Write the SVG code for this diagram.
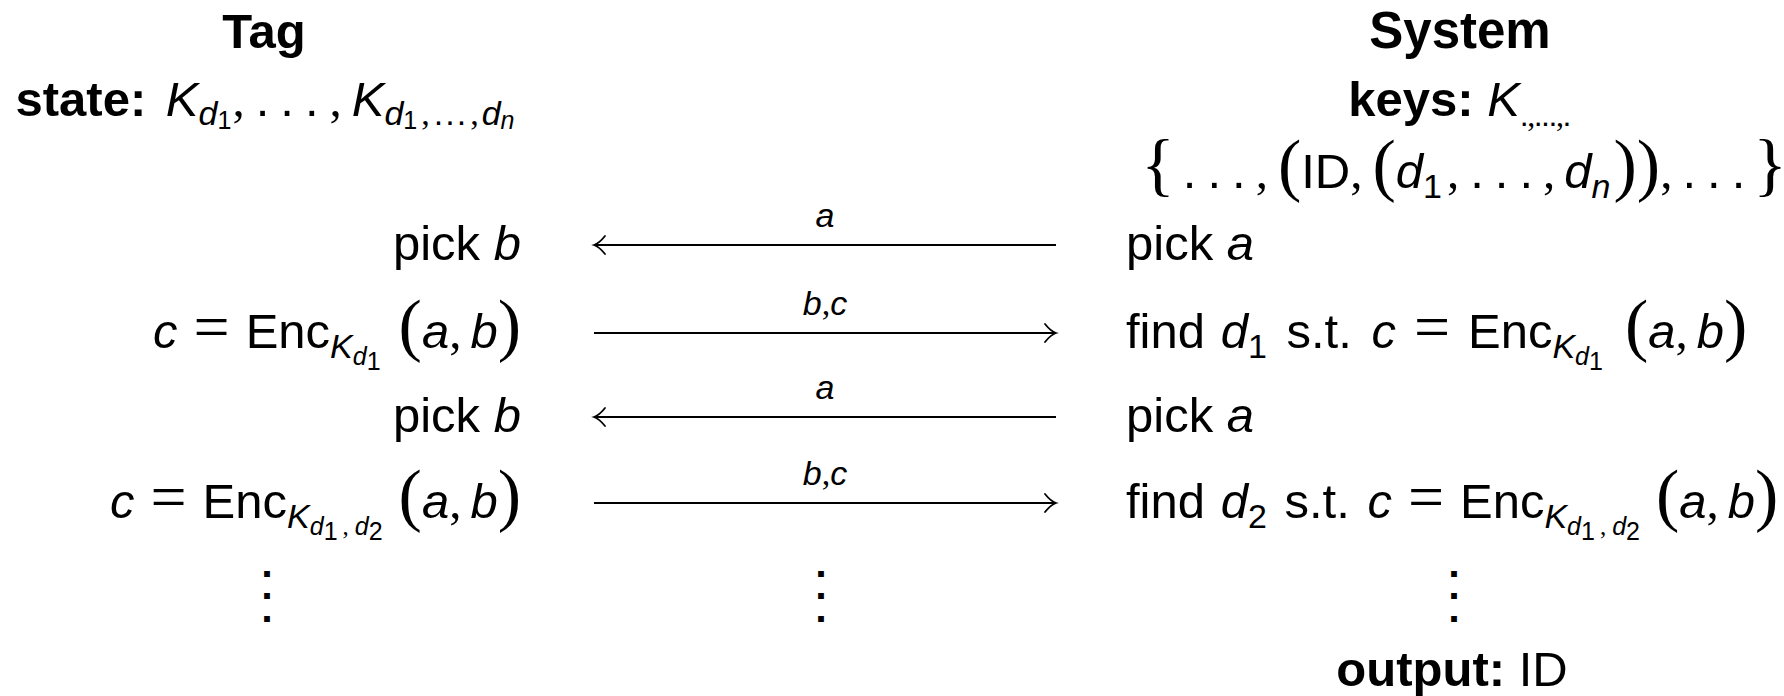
<svg xmlns="http://www.w3.org/2000/svg" width="1784" height="696" viewBox="0 0 1784 696">
  <style>
    text{font-family:"Liberation Sans",Arial,sans-serif;font-size:49px;fill:#000}
    .bf{font-weight:bold}
    .it{font-style:italic}
    .sub{font-size:34px}
    .ssub{font-size:25px}
    .ksub{font-size:32px;letter-spacing:-1.5px}
    .rm{font-family:"Liberation Serif","Times New Roman",serif}
    .eq{font-family:"Liberation Serif","Times New Roman",serif;font-size:64px}
    .par{font-family:"Liberation Serif","Times New Roman",serif;font-size:70px}
    .lbl{font-size:34px;font-style:italic}
    .vd{font-size:18px;stroke:#000;stroke-width:4;stroke-linejoin:miter}
    .arr{stroke:#000;stroke-width:2;fill:none}
  </style>
  <defs>
    <marker id="ah" markerUnits="userSpaceOnUse" markerWidth="16" markerHeight="24" viewBox="-14 -12 16 24" refX="0" refY="0" orient="auto" overflow="visible">
      <path d="M-11,-9 C-7,-4 -3,-1 0,0 C-3,1 -7,4 -11,9" fill="none" stroke="#000" stroke-width="1.8" stroke-linecap="round"/>
    </marker>
  </defs>
  <rect width="1784" height="696" fill="#fff"/>

  <!-- Tag column -->
  <g id="tag">
    <text class="bf" x="264" y="48" text-anchor="middle">Tag</text>
    <text x="265" y="116" text-anchor="middle"><tspan class="bf">state: </tspan><tspan class="it" dx="6">K</tspan><tspan class="it sub" dy="9">d</tspan><tspan class="ssub" dy="4">1</tspan><tspan class="rm" dx="1" dy="-13">,</tspan><tspan dx="11">.</tspan><tspan dx="11">.</tspan><tspan dx="11">.</tspan><tspan class="rm" dx="11">,</tspan><tspan class="it" dx="10">K</tspan><tspan class="it sub" dy="9">d</tspan><tspan class="ssub" dy="4">1</tspan><tspan class="rm sub" dx="4" dy="-4">,</tspan><tspan class="sub" dx="4">.</tspan><tspan class="sub" dx="2">.</tspan><tspan class="sub" dx="2">.</tspan><tspan class="rm sub" dx="4">,</tspan><tspan class="it sub" dx="3">d</tspan><tspan class="it ssub" dy="4">n</tspan></text>
    <text x="521" y="260" text-anchor="end">pick <tspan class="it">b</tspan></text>
    <text x="521" y="348" text-anchor="end"><tspan class="it">c</tspan><tspan class="eq" dx="16">=</tspan><tspan dx="16">Enc</tspan><tspan class="it sub" dy="10">K</tspan><tspan class="it ssub" dy="7">d</tspan><tspan class="ssub" dy="5">1</tspan><tspan class="par" dx="18" dy="-22">(</tspan><tspan class="it">a</tspan><tspan class="rm">,</tspan><tspan class="it" dx="9">b</tspan><tspan class="par">)</tspan></text>
    <text x="521" y="432" text-anchor="end">pick <tspan class="it">b</tspan></text>
    <text x="521" y="518" text-anchor="end"><tspan class="it">c</tspan><tspan class="eq" dx="16">=</tspan><tspan dx="16">Enc</tspan><tspan class="it sub" dy="10">K</tspan><tspan class="it ssub" dy="7">d</tspan><tspan class="ssub" dy="5">1</tspan><tspan class="rm ssub" dx="5" dy="-5">,</tspan><tspan class="it ssub" dx="6">d</tspan><tspan class="ssub" dy="5">2</tspan><tspan class="par" dx="16" dy="-22">(</tspan><tspan class="it">a</tspan><tspan class="rm">,</tspan><tspan class="it" dx="9">b</tspan><tspan class="par">)</tspan></text>
    <text class="vd" x="267" y="575" text-anchor="middle">.</text>
    <text class="vd" x="267" y="597" text-anchor="middle">.</text>
    <text class="vd" x="267" y="620" text-anchor="middle">.</text>
  </g>

  <!-- System column -->
  <g id="system">
    <text class="bf" x="1460" y="48" text-anchor="middle" style="font-size:51px">System</text>
    <text x="1459" y="116" text-anchor="middle"><tspan class="bf">keys: </tspan><tspan class="it">K</tspan><tspan class="ksub" dy="10">.</tspan><tspan class="rm ksub">,</tspan><tspan class="ksub">...</tspan><tspan class="rm ksub">,</tspan><tspan class="ksub">.</tspan></text>
    <text x="1464" y="188" text-anchor="middle"><tspan class="par">{</tspan><tspan dx="8">.</tspan><tspan dx="11">.</tspan><tspan dx="11">.</tspan><tspan class="rm" dx="10">,</tspan><tspan class="par" dx="10">(</tspan><tspan>ID</tspan><tspan class="rm">,</tspan><tspan class="par" dx="10">(</tspan><tspan class="it">d</tspan><tspan class="sub" dy="10">1</tspan><tspan class="rm" dx="5" dy="-10">,</tspan><tspan dx="11">.</tspan><tspan dx="11">.</tspan><tspan dx="11">.</tspan><tspan class="rm" dx="10">,</tspan><tspan class="it" dx="9">d</tspan><tspan class="it sub" dy="10">n</tspan><tspan class="par" dx="3" dy="-10">)</tspan><tspan class="par">)</tspan><tspan class="rm">,</tspan><tspan dx="10">.</tspan><tspan dx="11">.</tspan><tspan dx="11">.</tspan><tspan class="par" dx="8">}</tspan></text>
    <text x="1126" y="260">pick <tspan class="it">a</tspan></text>
    <text x="1126" y="348">find <tspan class="it" dx="2">d</tspan><tspan class="sub" dy="10">1</tspan><tspan dx="6" dy="-10"> s.t. </tspan><tspan class="it" dx="6">c</tspan><tspan class="eq" dx="18">=</tspan><tspan dx="18">Enc</tspan><tspan class="it sub" dy="10">K</tspan><tspan class="it ssub" dy="7">d</tspan><tspan class="ssub" dy="5">1</tspan><tspan class="par" dx="22" dy="-22">(</tspan><tspan class="it">a</tspan><tspan class="rm">,</tspan><tspan class="it" dx="9">b</tspan><tspan class="par">)</tspan></text>
    <text x="1126" y="432">pick <tspan class="it">a</tspan></text>
    <text x="1126" y="518">find <tspan class="it" dx="2">d</tspan><tspan class="sub" dy="10">2</tspan><tspan dx="4" dy="-10"> s.t. </tspan><tspan class="it" dx="4">c</tspan><tspan class="eq" dx="16">=</tspan><tspan dx="16">Enc</tspan><tspan class="it sub" dy="10">K</tspan><tspan class="it ssub" dy="7">d</tspan><tspan class="ssub" dy="5">1</tspan><tspan class="rm ssub" dx="5" dy="-5">,</tspan><tspan class="it ssub" dx="6">d</tspan><tspan class="ssub" dy="5">2</tspan><tspan class="par" dx="16" dy="-22">(</tspan><tspan class="it">a</tspan><tspan class="rm">,</tspan><tspan class="it" dx="9">b</tspan><tspan class="par">)</tspan></text>
    <text class="vd" x="1454" y="575" text-anchor="middle">.</text>
    <text class="vd" x="1454" y="597" text-anchor="middle">.</text>
    <text class="vd" x="1454" y="620" text-anchor="middle">.</text>
    <text x="1452" y="686" text-anchor="middle"><tspan class="bf">output:</tspan> ID</text>
  </g>

  <!-- Messages between the two parties -->
  <g id="connectors">
    <path class="arr" d="M1056 245 H594" marker-end="url(#ah)"/>
    <path class="arr" d="M594 333 H1056" marker-end="url(#ah)"/>
    <path class="arr" d="M1056 417 H594" marker-end="url(#ah)"/>
    <path class="arr" d="M594 503 H1056" marker-end="url(#ah)"/>
    <text class="lbl" x="825" y="227" text-anchor="middle">a</text>
    <text x="825" y="315" text-anchor="middle"><tspan class="lbl">b</tspan><tspan class="rm sub">,</tspan><tspan class="lbl">c</tspan></text>
    <text class="lbl" x="825" y="399" text-anchor="middle">a</text>
    <text x="825" y="485" text-anchor="middle"><tspan class="lbl">b</tspan><tspan class="rm sub">,</tspan><tspan class="lbl">c</tspan></text>
    <text class="vd" x="821" y="575" text-anchor="middle">.</text>
    <text class="vd" x="821" y="597" text-anchor="middle">.</text>
    <text class="vd" x="821" y="620" text-anchor="middle">.</text>
  </g>
</svg>
